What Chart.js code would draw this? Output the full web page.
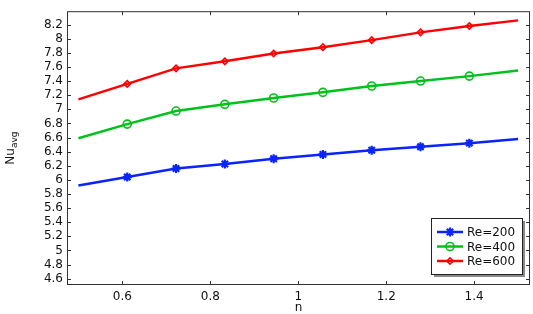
<!DOCTYPE html>
<html>
<head>
<meta charset="utf-8">
<script src="https://cdn.jsdelivr.net/npm/chart.js@4/dist/chart.umd.min.js"></script>
<style>
  html, body { margin: 0; padding: 0; background: #fff; }
  #wrap { width: 533px; height: 314px; }
</style>
</head>
<body>
<div id="wrap"><canvas id="lineChart" width="533" height="314"></canvas></div>
<script>
const nValues = [0.5, 0.611, 0.722, 0.833, 0.944, 1.056, 1.167, 1.278, 1.389, 1.5];
const re200 = [5.92, 6.04, 6.16, 6.225, 6.30, 6.36, 6.42, 6.47, 6.52, 6.58];
const re400 = [6.59, 6.79, 6.975, 7.07, 7.16, 7.24, 7.33, 7.40, 7.47, 7.55];
const re600 = [7.14, 7.36, 7.58, 7.68, 7.79, 7.88, 7.98, 8.09, 8.18, 8.26];
const seriesLabels = ['Re=200', 'Re=400', 'Re=600'];

const xTicks = [0.6, 0.8, 1, 1.2, 1.4];
const yTicks = [4.6, 4.8, 5, 5.2, 5.4, 5.6, 5.8, 6, 6.2, 6.4, 6.6, 6.8, 7, 7.2, 7.4, 7.6, 7.8, 8, 8.2];

const colors = ['#0a24ff', '#00c21a', '#ff0000'];
const markers = ['star', 'circle', 'rectRot'];
const markerSizes = [4.5, 4, 3.2];
const font = 'DejaVu Sans';

// markers only on the inner points, like the original plot
const radii = size => nValues.map((v, i) => (i === 0 || i === nValues.length - 1) ? 0 : size);
const toXY = ys => ys.map((y, i) => ({ x: nValues[i], y: y }));

const datasets = [re200, re400, re600].map((ys, i) => ({
    label: seriesLabels[i],
    data: toXY(ys),
    borderColor: colors[i],
    backgroundColor: 'rgba(255,255,255,0)',
    borderWidth: 2.5,
    pointStyle: markers[i],
    pointRadius: radii(markerSizes[i]),
    pointBorderWidth: i === 0 ? 2.2 : 1.6,
    pointBorderColor: colors[i],
    pointBackgroundColor: 'rgba(255,255,255,0)',
    tension: 0
}));

const boxPlugin = {
    id: 'box',
    afterDatasetsDraw(chart) {
        const { ctx, chartArea: a, scales } = chart;
        ctx.save();
        ctx.strokeStyle = '#333';
        ctx.lineWidth = 1;
        ctx.strokeRect(a.left + 0.5, a.top + 0.5, a.right - a.left - 1, a.bottom - a.top - 1);
        ctx.beginPath();
        const t = 4;
        xTicks.forEach(v => {
            const x = Math.round(scales.x.getPixelForValue(v)) + 0.5;
            ctx.moveTo(x, a.bottom); ctx.lineTo(x, a.bottom - t);
            ctx.moveTo(x, a.top); ctx.lineTo(x, a.top + t);
        });
        yTicks.forEach(v => {
            const y = Math.round(scales.y.getPixelForValue(v)) + 0.5;
            ctx.moveTo(a.left, y); ctx.lineTo(a.left + t, y);
            ctx.moveTo(a.right, y); ctx.lineTo(a.right - t, y);
        });
        ctx.stroke();

        // axis titles
        ctx.fillStyle = '#111';
        ctx.textBaseline = 'alphabetic';
        ctx.font = '12px "' + font + '"';
        ctx.textAlign = 'center';
        ctx.fillText('n', (a.left + a.right) / 2, 311);

        ctx.translate(14, (a.top + a.bottom) / 2);
        ctx.rotate(-Math.PI / 2);
        ctx.textAlign = 'left';
        const nuW = ctx.measureText('Nu').width;
        ctx.font = '9px "' + font + '"';
        const subW = ctx.measureText('avg').width;
        const x0 = -(nuW + subW) / 2;
        ctx.font = '12px "' + font + '"';
        ctx.fillText('Nu', x0, 0);
        ctx.font = '9px "' + font + '"';
        ctx.fillText('avg', x0 + nuW, 3);
        ctx.restore();
    },
    afterDraw(chart) {
        const { ctx } = chart;
        const bx = 431, by = 218, bw = 91, bh = 56;
        ctx.save();
        ctx.fillStyle = '#8a8a8a';
        ctx.fillRect(bx + 3, by + 3, bw, bh);
        ctx.fillStyle = '#fff';
        ctx.fillRect(bx, by, bw, bh);
        ctx.strokeStyle = '#222';
        ctx.lineWidth = 1;
        ctx.strokeRect(bx + 0.5, by + 0.5, bw, bh);
        ctx.font = '12px "' + font + '"';
        ctx.textBaseline = 'middle';
        ctx.textAlign = 'left';
        chart.data.datasets.forEach((ds, i) => {
            const y = 232 + i * 14.5;
            ctx.strokeStyle = ds.borderColor;
            ctx.lineWidth = 2.5;
            ctx.beginPath();
            ctx.moveTo(437, y); ctx.lineTo(463, y);
            ctx.stroke();
            ctx.lineWidth = ds.pointBorderWidth;
            ctx.fillStyle = 'rgba(255,255,255,0)';
            Chart.helpers.drawPoint(ctx, {
                pointStyle: ds.pointStyle,
                radius: markerSizes[i],
                rotation: 0,
                borderWidth: ds.pointBorderWidth
            }, 450, y);
            ctx.fillStyle = '#111';
            ctx.fillText(ds.label, 467, y + 1);
        });
        ctx.restore();
    }
};

new Chart(document.getElementById('lineChart'), {
    type: 'line',
    data: { datasets: datasets },
    options: {
        responsive: false,
        animation: false,
        devicePixelRatio: 1,
        layout: { padding: { left: 0, top: 2, right: 3, bottom: 0 } },
        plugins: {
            legend: { display: false },
            tooltip: { enabled: false }
        },
        scales: {
            x: {
                type: 'linear',
                min: 0.474,
                max: 1.527,
                grid: { display: false, drawTicks: false },
                border: { display: false },
                ticks: {
                    padding: 5,
                    autoSkip: false,
                    color: '#111',
                    font: { family: font, size: 12 },
                    maxRotation: 0,
                    callback: v => String(+v.toFixed(1))
                },
                afterBuildTicks: s => { s.ticks = xTicks.map(v => ({ value: v })); },
                afterFit: s => { s.height = 29; }
            },
            y: {
                min: 4.51,
                max: 8.39,
                grid: { display: false, drawTicks: false },
                border: { display: false },
                ticks: {
                    padding: 4,
                    autoSkip: false,
                    color: '#111',
                    font: { family: font, size: 12 },
                    callback: v => String(+v.toFixed(1))
                },
                afterBuildTicks: s => { s.ticks = yTicks.map(v => ({ value: v })); },
                afterFit: s => { s.width = 67; }
            }
        }
    },
    plugins: [boxPlugin]
});
</script>
</body>
</html>
